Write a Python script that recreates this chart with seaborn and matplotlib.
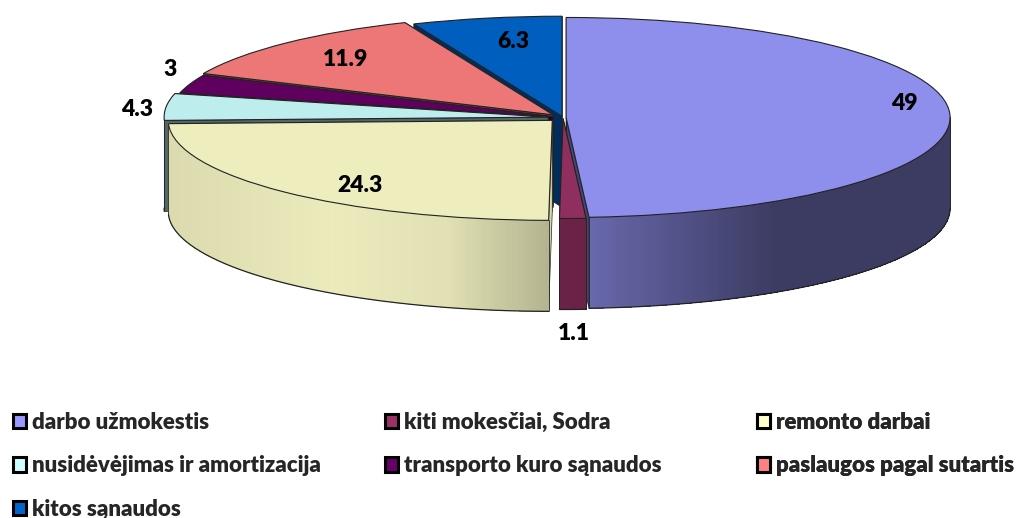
import matplotlib
matplotlib.use("Agg")
import matplotlib.pyplot as plt
import numpy as np
import seaborn as sns
from matplotlib.patches import Patch

# Chart data
categories = [
    "darbo užmokestis",
    "kiti mokesčiai, Sodra",
    "remonto darbai",
    "nusidėvėjimas ir amortizacija",
    "transporto kuro sąnaudos",
    "paslaugos pagal sutartis",
    "kitos sąnaudos",
]
values = [49, 1.1, 24.3, 4.3, 3, 11.9, 6.3]
colors = ["#9999ff", "#993366", "#ffffcc", "#ccffff", "#660066", "#ff8080", "#0066cc"]
explode = [0.008, 0.01, 0.04, 0.039, 0.0275, 0.037, 0.013]

# Layout, in pixels of the 1017x518 picture
W, H = 1017, 518
CX, CY = 563, 117.5
RX, RY = 384, 100
DEPTH = 91 / RY
label_pos = [(904, 104), (574, 334), (360, 185), (137, 110), (170, 69), (346, 59), (513, 42)]
legend_cols = [(13, [0, 3, 6]), (385, [1, 4]), (757, [2, 5])]
LEGEND_TOP = 412
LABEL_SIZE = 16.5
LEGEND_SIZE = 16

# Back slices are painted first
draw_rank = [4, 5, 6, 3, 2, 1, 0]
cut_shade = [0.45, 0.7, 0.85, 0.4, 0.4, 0.45, 0.45]

sns.set_theme(style="white")
plt.rcParams["font.family"] = ["Lato", "DejaVu Sans"]
plt.rcParams["font.weight"] = 800


def shade(color, factor):
    return tuple(c * factor for c in matplotlib.colors.to_rgb(color))


def wall_factor(x):
    # Lighting of the side wall, from left to right
    return np.interp(x, [-1.0, -0.6, -0.3, -0.03, 0.05, 0.55, 1.0],
                     [0.86, 0.92, 0.88, 0.70, 0.69, 0.39, 0.39])


def draw_cut(ax, center, theta, color, z):
    rim = (center[0] + np.cos(np.radians(theta)), center[1] + np.sin(np.radians(theta)))
    xs = [center[0], rim[0], rim[0], center[0]]
    ys = [center[1], rim[1], rim[1] - DEPTH, center[1] - DEPTH]
    ax.fill(xs, ys, facecolor=color, edgecolor="#222222", linewidth=0.5, zorder=z)


def draw_wall(ax, wedge, color, z):
    lo, hi = max(wedge.theta1, -180), min(wedge.theta2, 0)
    if hi <= lo:
        return
    cx, cy = wedge.center
    angles = np.radians(np.linspace(lo, hi, int(hi - lo) * 2 + 4))
    xs = cx + np.cos(angles)
    ys = cy + np.sin(angles)
    n = len(angles)
    # strips overlap the next one and have no antialiasing, so no seams show
    for i in range(n - 1):
        j = min(i + 2, n - 1)
        c = shade(color, wall_factor((xs[i] + xs[i + 1]) / 2))
        ax.fill([xs[i], xs[j], xs[j], xs[i]],
                [ys[i], ys[j], ys[j] - DEPTH, ys[i] - DEPTH],
                facecolor=c, edgecolor="none", antialiased=False, zorder=z)
    ax.plot(xs, ys - DEPTH, color="#222222", linewidth=0.9, zorder=z)
    ax.plot([xs[0], xs[0]], [ys[0], ys[0] - DEPTH], color="#222222", linewidth=0.6, zorder=z)
    ax.plot([xs[-1], xs[-1]], [ys[-1], ys[-1] - DEPTH], color="#222222", linewidth=0.6, zorder=z)


def to_data(px, py):
    return (px - CX) / RX, (CY - py) / RY


fig = plt.figure(figsize=(W / 100, H / 100), dpi=100)
ax = fig.add_axes([0, 0, 1, 1])

# The top of the pie comes straight from matplotlib
wedges, _ = ax.pie(
    values,
    colors=[shade(c, 0.93) for c in colors],
    explode=explode,
    startangle=90,
    counterclock=False,
    wedgeprops={"edgecolor": "#222222", "linewidth": 0.8},
)

# Squash the circle into an ellipse
ax.set_aspect("auto")
ax.set_xlim(-CX / RX, (W - CX) / RX)
ax.set_ylim((CY - H) / RY, CY / RY)

for i, wedge in enumerate(wedges):
    z = draw_rank[i] * 3 + 1
    cut = shade(colors[i], cut_shade[i])
    draw_cut(ax, wedge.center, wedge.theta1, cut, z)
    draw_cut(ax, wedge.center, wedge.theta2, cut, z)
    draw_wall(ax, wedge, colors[i], z + 1)
    wedge.set_zorder(z + 2)

for value, (px, py) in zip(values, label_pos):
    x, y = to_data(px, py)
    ax.text(x, y, f"{value:g}", ha="center", va="center", fontsize=LABEL_SIZE,
            fontweight=800, color="black", zorder=40)

# One legend per column, Excel keeps its columns evenly spaced
for col_x, members in legend_cols:
    handles = [Patch(facecolor=colors[i], edgecolor="black", linewidth=2.2, label=categories[i])
               for i in members]
    legend = ax.legend(
        handles=handles,
        loc="upper left",
        bbox_to_anchor=(col_x / W, 1 - LEGEND_TOP / H),
        bbox_transform=fig.transFigure,
        frameon=False,
        prop={"size": LEGEND_SIZE, "weight": 800},
        handlelength=0.6,
        handleheight=0.6,
        handletextpad=0.26,
        borderpad=0,
        borderaxespad=0,
        labelspacing=1.005,
    )
    legend.set_zorder(50)
    ax.add_artist(legend)

fig.savefig("out.png", dpi=100)
plt.close(fig)
